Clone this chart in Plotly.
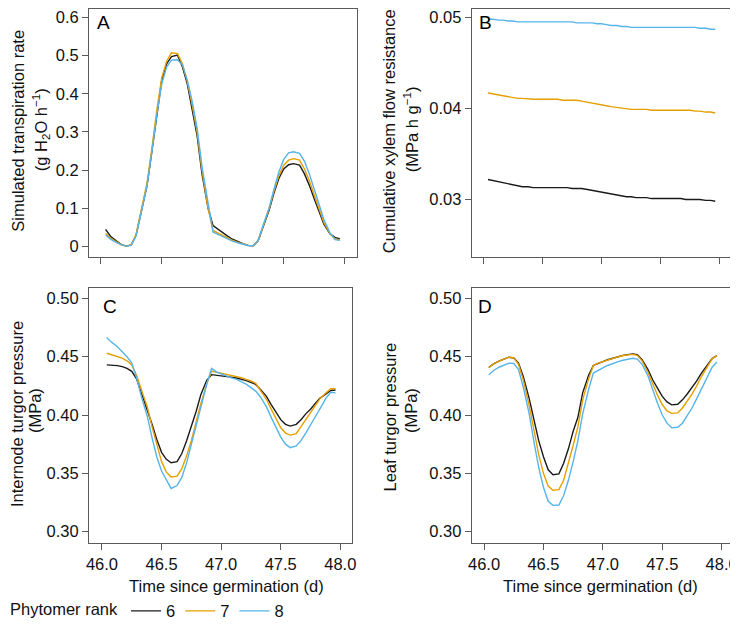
import plotly.graph_objects as go

# hourly time points (days since germination)
time_d = [46.04, 46.08, 46.13, 46.17, 46.21, 46.25, 46.29, 46.33, 46.38, 46.42,
          46.46, 46.50, 46.54, 46.58, 46.63, 46.67, 46.71, 46.75, 46.79, 46.83,
          46.88, 46.92, 46.96, 47.00, 47.04, 47.08, 47.13, 47.17, 47.21, 47.25,
          47.29, 47.33, 47.38, 47.42, 47.46, 47.50, 47.54, 47.58, 47.63, 47.67,
          47.71, 47.75, 47.79, 47.83, 47.88, 47.92, 47.96]

ranks = ["6", "7", "8"]
colors = ["#1a1a1a", "#E69F00", "#56B4E9"]

# A: simulated transpiration rate (g H2O h-1)
transp_6 = [0.045, 0.027, 0.014, 0.005, 0.001, 0.004, 0.030, 0.085, 0.160, 0.250,
            0.350, 0.435, 0.478, 0.497, 0.501, 0.470, 0.425, 0.360, 0.290, 0.190,
            0.100, 0.055, 0.045, 0.036, 0.027, 0.019, 0.012, 0.007, 0.003, 0.002,
            0.015, 0.050, 0.095, 0.140, 0.178, 0.203, 0.214, 0.217, 0.213, 0.190,
            0.160, 0.125, 0.090, 0.058, 0.033, 0.024, 0.020]
transp_7 = [0.034, 0.022, 0.012, 0.004, 0.001, 0.004, 0.032, 0.090, 0.168, 0.258,
            0.358, 0.442, 0.485, 0.507, 0.505, 0.478, 0.432, 0.370, 0.300, 0.200,
            0.100, 0.042, 0.035, 0.029, 0.023, 0.016, 0.010, 0.006, 0.003, 0.002,
            0.015, 0.052, 0.100, 0.145, 0.185, 0.213, 0.226, 0.230, 0.226, 0.203,
            0.172, 0.135, 0.097, 0.062, 0.033, 0.020, 0.017]
transp_8 = [0.030, 0.019, 0.010, 0.004, 0.001, 0.003, 0.028, 0.085, 0.160, 0.250,
            0.345, 0.425, 0.470, 0.488, 0.489, 0.475, 0.435, 0.380, 0.310, 0.210,
            0.110, 0.038, 0.032, 0.026, 0.020, 0.014, 0.009, 0.005, 0.002, 0.002,
            0.016, 0.055, 0.100, 0.150, 0.195, 0.228, 0.245, 0.248, 0.244, 0.223,
            0.190, 0.150, 0.110, 0.070, 0.035, 0.018, 0.016]

# B: cumulative xylem flow resistance (MPa h g-1)
resist_6 = [0.0322, 0.0321, 0.0319, 0.0318, 0.0317, 0.0316, 0.0315, 0.0314, 0.0314, 0.0313,
            0.0313, 0.0313, 0.0313, 0.0313, 0.0313, 0.0313, 0.0313, 0.0312, 0.0312, 0.0312,
            0.0311, 0.0310, 0.0309, 0.0308, 0.0307, 0.0306, 0.0305, 0.0304, 0.0303, 0.0303,
            0.0302, 0.0302, 0.0302, 0.0301, 0.0301, 0.0301, 0.0301, 0.0301, 0.0301, 0.0301,
            0.0300, 0.0300, 0.0300, 0.0300, 0.0299, 0.0299, 0.0298]
resist_7 = [0.0417, 0.0416, 0.0415, 0.0414, 0.0413, 0.0412, 0.0411, 0.0411, 0.0410, 0.0410,
            0.0410, 0.0410, 0.0410, 0.0410, 0.0410, 0.0409, 0.0409, 0.0409, 0.0409, 0.0408,
            0.0407, 0.0406, 0.0405, 0.0404, 0.0403, 0.0402, 0.0401, 0.0400, 0.0400, 0.0399,
            0.0399, 0.0399, 0.0399, 0.0398, 0.0398, 0.0398, 0.0398, 0.0398, 0.0398, 0.0398,
            0.0398, 0.0398, 0.0397, 0.0397, 0.0396, 0.0396, 0.0395]
resist_8 = [0.0498, 0.0498, 0.0497, 0.0497, 0.0496, 0.0496, 0.0495, 0.0495, 0.0495, 0.0495,
            0.0495, 0.0495, 0.0495, 0.0495, 0.0495, 0.0495, 0.0495, 0.0495, 0.0494, 0.0494,
            0.0494, 0.0494, 0.0493, 0.0493, 0.0492, 0.0491, 0.0491, 0.0490, 0.0490, 0.0489,
            0.0489, 0.0489, 0.0489, 0.0489, 0.0489, 0.0489, 0.0489, 0.0489, 0.0489, 0.0489,
            0.0489, 0.0489, 0.0489, 0.0488, 0.0488, 0.0487, 0.0487]

# C: internode turgor pressure (MPa)
intern_6 = [0.4430, 0.4428, 0.4424, 0.4415, 0.4400, 0.4375, 0.4310, 0.4190, 0.4050, 0.3920,
            0.3790, 0.3680, 0.3620, 0.3590, 0.3600, 0.3670, 0.3780, 0.3900, 0.4030, 0.4177,
            0.4300, 0.4346, 0.4342, 0.4338, 0.4332, 0.4325, 0.4317, 0.4308, 0.4295, 0.4280,
            0.4262, 0.4220, 0.4160, 0.4090, 0.4020, 0.3960, 0.3920, 0.3905, 0.3920, 0.3960,
            0.4010, 0.4050, 0.4100, 0.4145, 0.4180, 0.4210, 0.4215]
intern_7 = [0.4530, 0.4517, 0.4503, 0.4488, 0.4465, 0.4430, 0.4340, 0.4220, 0.4070, 0.3900,
            0.3740, 0.3600, 0.3510, 0.3468, 0.3475, 0.3540, 0.3650, 0.3780, 0.3940, 0.4100,
            0.4270, 0.4375, 0.4368, 0.4360, 0.4352, 0.4342, 0.4332, 0.4320, 0.4305, 0.4292,
            0.4272, 0.4210, 0.4135, 0.4050, 0.3970, 0.3890, 0.3845, 0.3828, 0.3840, 0.3900,
            0.3960, 0.4020, 0.4085, 0.4140, 0.4190, 0.4225, 0.4225]
intern_8 = [0.4665, 0.4625, 0.4585, 0.4546, 0.4500, 0.4445, 0.4320, 0.4160, 0.3990, 0.3805,
            0.3640, 0.3520, 0.3440, 0.3370, 0.3395, 0.3465, 0.3590, 0.3755, 0.3910, 0.4085,
            0.4268, 0.4400, 0.4370, 0.4352, 0.4335, 0.4320, 0.4305, 0.4285, 0.4265, 0.4235,
            0.4205, 0.4155, 0.4070, 0.3980, 0.3890, 0.3810, 0.3750, 0.3720, 0.3735, 0.3780,
            0.3845, 0.3910, 0.3985, 0.4055, 0.4145, 0.4195, 0.4190]

# D: leaf turgor pressure (MPa)
leaf_6 = [0.4408, 0.4438, 0.4465, 0.4482, 0.4496, 0.4489, 0.4445, 0.4330, 0.4140, 0.3960,
          0.3780, 0.3642, 0.3530, 0.3488, 0.3495, 0.3586, 0.3710, 0.3860, 0.3980, 0.4190,
          0.4340, 0.4425, 0.4445, 0.4458, 0.4474, 0.4488, 0.4500, 0.4512, 0.4520, 0.4524,
          0.4518, 0.4475, 0.4390, 0.4300, 0.4230, 0.4160, 0.4112, 0.4087, 0.4092, 0.4130,
          0.4180, 0.4235, 0.4292, 0.4360, 0.4432, 0.4485, 0.4510]
leaf_7 = [0.4408, 0.4438, 0.4465, 0.4482, 0.4496, 0.4489, 0.4435, 0.4300, 0.4080, 0.3870,
          0.3660, 0.3500, 0.3390, 0.3355, 0.3360, 0.3440, 0.3580, 0.3740, 0.3900, 0.4130,
          0.4310, 0.4425, 0.4445, 0.4458, 0.4474, 0.4488, 0.4500, 0.4510, 0.4518, 0.4520,
          0.4512, 0.4465, 0.4365, 0.4260, 0.4170, 0.4090, 0.4035, 0.4014, 0.4018, 0.4060,
          0.4115, 0.4180, 0.4250, 0.4330, 0.4415, 0.4482, 0.4510]
leaf_8 = [0.4346, 0.4382, 0.4412, 0.4432, 0.4445, 0.4442, 0.4390, 0.4240, 0.4010, 0.3770,
          0.3550, 0.3380, 0.3260, 0.3225, 0.3228, 0.3310, 0.3440, 0.3600, 0.3780, 0.4010,
          0.4220, 0.4360, 0.4385, 0.4405, 0.4425, 0.4442, 0.4458, 0.4470, 0.4480, 0.4487,
          0.4480, 0.4435, 0.4335, 0.4210, 0.4100, 0.4000, 0.3930, 0.3890, 0.3895, 0.3930,
          0.3995, 0.4060, 0.4140, 0.4225, 0.4325, 0.4410, 0.4454]

panels = [
    ("A", [transp_6, transp_7, transp_8]),
    ("B", [resist_6, resist_7, resist_8]),
    ("C", [intern_6, intern_7, intern_8]),
    ("D", [leaf_6, leaf_7, leaf_8]),
]

# the page puts the figure 8 px in from the top-left corner, so the figure is
# sized to fill the rest of the 738x629 window and positions are given in
# window pixels, converted below
OFF = 8
W, H = 738 - OFF, 629 - OFF


def px_x(v):
    return (v - OFF) / W


def px_y(v):
    return 1 - (v - OFF) / H


FONT = "Liberation Sans, Arial, Helvetica, sans-serif"
FS = 16.5
FRAME = "#5a5a5a"
TEXT = "#111111"

fig = go.Figure()
for i, (letter, series) in enumerate(panels):
    ax = "" if i == 0 else str(i + 1)
    for rank, col, vals in zip(ranks, colors, series):
        fig.add_trace(go.Scatter(
            x=time_d, y=vals, mode="lines", name=rank,
            line=dict(color=col, width=1.4),
            xaxis="x" + ax, yaxis="y" + ax,
            showlegend=(i == 0),
        ))

# frame positions in window pixels: (left, right, top, bottom)
frames = [(89, 357.3, 9.5, 261), (471.7, 731.7, 9.5, 261),
          (89, 352, 291.7, 551), (471.7, 733.3, 291.7, 551)]
xranges = [[45.904, 48.103], [45.902, 48.099], [45.891, 48.098], [45.896, 48.098]]
yranges = [[-0.0284, 0.6206], [0.023647, 0.050866], [0.2901, 0.5093], [0.2901, 0.5093]]
yticks = [
    ([0, 0.1, 0.2, 0.3, 0.4, 0.5, 0.6], ["0", "0.1", "0.2", "0.3", "0.4", "0.5", "0.6"]),
    ([0.03, 0.04, 0.05], ["0.03", "0.04", "0.05"]),
    ([0.30, 0.35, 0.40, 0.45, 0.50], ["0.30", "0.35", "0.40", "0.45", "0.50"]),
    ([0.30, 0.35, 0.40, 0.45, 0.50], ["0.30", "0.35", "0.40", "0.45", "0.50"]),
]
xtickvals = [46.0, 46.5, 47.0, 47.5, 48.0]
xticktext = ["46.0", "46.5", "47.0", "47.5", "48.0"]

axis_style = dict(showline=True, mirror=True, linecolor=FRAME, linewidth=1,
                  ticks="outside", ticklen=6, tickcolor=FRAME, tickwidth=1,
                  showgrid=False, zeroline=False, automargin=False,
                  ticklabeloverflow="allow",
                  tickfont=dict(family=FONT, size=FS, color=TEXT))

layout = {}
for i, (l, r, t, b) in enumerate(frames):
    ax = "" if i == 0 else str(i + 1)
    layout["xaxis" + ax] = dict(
        axis_style, domain=[px_x(l), px_x(r)], range=xranges[i], anchor="y" + ax,
        tickvals=xtickvals, ticktext=xticktext, showticklabels=(i >= 2))
    layout["yaxis" + ax] = dict(
        axis_style, domain=[px_y(b), px_y(t)], range=yranges[i], anchor="x" + ax,
        tickvals=yticks[i][0], ticktext=yticks[i][1])

annotations = []
# panel letters: (left, top) of the text box in window pixels
letter_pos = [(95, 10), (477, 10), (101, 298), (476, 298)]
for (letter, _), (lx, ty) in zip(panels, letter_pos):
    annotations.append(dict(
        text=letter, xref="paper", yref="paper", x=px_x(lx), y=px_y(ty),
        xanchor="left", yanchor="top", showarrow=False,
        font=dict(family=FONT, size=19, color="black")))

# y-axis titles (two lines each): (text, x centre px, y centre px)
ytitles = [
    ("Simulated transpiration rate", 18.5, 133),
    ("(g H<sub>2</sub>O h<sup>−1</sup>)", 41, 132),
    ("Cumulative xylem flow resistance", 389, 133),
    ("(MPa h g<sup>−1</sup>)", 411, 131),
    ("Internode turgor pressure", 17, 420),
    ("(MPa)", 35, 417),
    ("Leaf turgor pressure", 390, 422.5),
    ("(MPa)", 411, 417),
]
for text, xc, yc in ytitles:
    annotations.append(dict(
        text=text, xref="paper", yref="paper", x=px_x(xc), y=px_y(yc),
        xanchor="center", yanchor="middle", textangle=-90, showarrow=False,
        font=dict(family=FONT, size=FS, color=TEXT)))

for xc in (226.5, 600):
    annotations.append(dict(
        text="Time since germination (d)", xref="paper", yref="paper",
        x=px_x(xc), y=px_y(595), xanchor="center", yanchor="middle",
        showarrow=False, font=dict(family=FONT, size=FS, color=TEXT)))

fig.update_layout(layout)
fig.update_layout(
    width=W, height=H,
    margin=dict(l=0, r=0, t=0, b=0),
    paper_bgcolor="white", plot_bgcolor="white",
    font=dict(family=FONT, size=FS, color=TEXT),
    annotations=annotations,
    legend=dict(
        orientation="h", x=0, xanchor="left", y=px_y(620), yanchor="middle",
        title=dict(text="Phytomer rank", side="left", font=dict(size=FS)),
        font=dict(family=FONT, size=FS), itemwidth=30,
        bgcolor="rgba(0,0,0,0)", tracegroupgap=0,
    ),
)

fig.write_html("out.html")
